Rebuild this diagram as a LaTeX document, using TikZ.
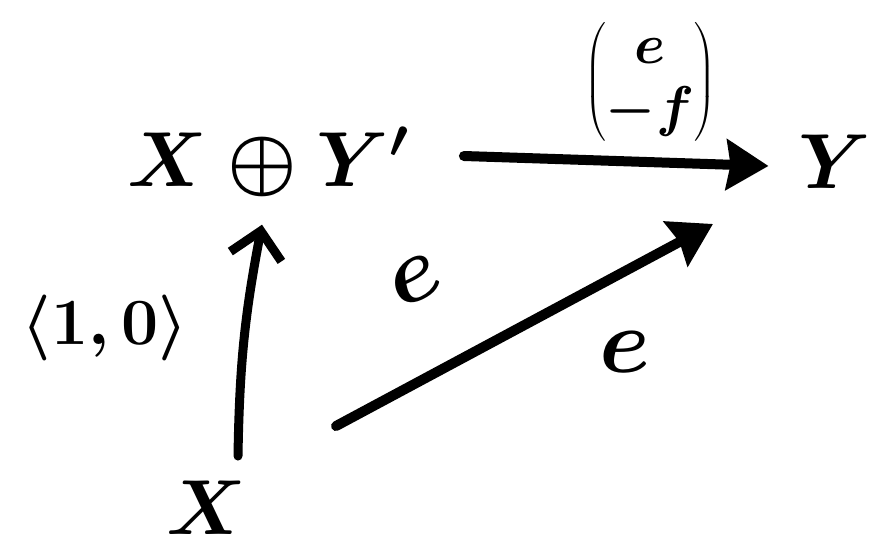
\documentclass[tikz,border=0pt]{standalone}
\usepackage{fix-cm}
\usepackage{amsmath}
\usetikzlibrary{arrows.meta}
\begin{document}
\begin{tikzpicture}[x=1pt,y=-1pt,
  obj/.style={inner sep=0pt,font=\fontsize{78}{90}\selectfont\boldmath},
  lbl/.style={inner sep=0pt,font=\fontsize{66}{72}\selectfont\boldmath},
  mlbl/.style={inner sep=0pt,font=\fontsize{56}{62}\selectfont\boldmath},
  elbl/.style={inner sep=0pt,font=\fontsize{92}{100}\selectfont\boldmath},
  arr/.style={line width=10pt,line cap=round,-{Stealth[length=42pt,width=50pt,inset=4pt]}},
  varr/.style={line width=9pt,line cap=round,-{Straight Barb[length=26pt,width=52pt,line width=9pt]}}]
\useasboundingbox (0,0) rectangle (891,551);
\node[obj] (XY) at (268,162) {$X\oplus Y'$};
\node[obj] (Y) at (835,162) {$Y$};
\node[obj] (X) at (206,508) {$X$};
\draw[arr] ([xshift=55pt,yshift=6pt]XY.east) -- ([xshift=-30pt,yshift=-4pt]Y.west);
\draw[varr] ([xshift=32pt,yshift=25pt]X.north) to[bend left=5] ([xshift=-6pt,yshift=-28pt]XY.south);
\draw[arr] ([xshift=130pt,yshift=55pt]X.north) -- ([xshift=-122pt,yshift=-35pt]Y.south);
\node[mlbl] (hl) at (650,82) {$\begin{pmatrix} e\\ -f\end{pmatrix}$};
\node[lbl] (vl) at (105,328) {$\langle 1,0\rangle$};
\node[elbl,rotate=25] (e1) at (415,280) {$e$};
\node[elbl] (e2) at (625,352) {$e$};
\end{tikzpicture}
\end{document}
